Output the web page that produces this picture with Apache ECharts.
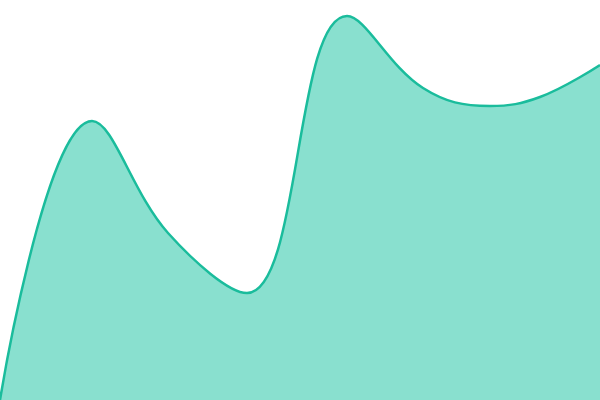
<!DOCTYPE html>
<html><head><meta charset="utf-8">
<script src="https://cdn.jsdelivr.net/npm/echarts@6/dist/echarts.min.js"></script>
<style>html,body{margin:0;padding:0;background:#fff}#c{width:600px;height:400px}</style>
</head><body><div id="c"></div>
<script>
const xs = [0, 92, 168, 247, 347, 423, 490, 540, 600];
const ys = [0, 279, 167, 107, 384, 312, 294, 303, 335];
const data = xs.map((x, i) => [x, ys[i]]);
const chart = echarts.init(document.getElementById('c'), null, {renderer: 'canvas'});
chart.setOption({
  animation: false,
  grid: {left: 0, right: 0, top: 0, bottom: 0},
  xAxis: {type: 'value', min: 0, max: 600, show: false},
  yAxis: {type: 'value', min: 0, max: 400, show: false},
  series: [{
    type: 'line', data: data, smooth: 0.4, showSymbol: false,
    lineStyle: {color: '#1abc9c', width: 2.5},
    areaStyle: {color: '#89e0cf', opacity: 1}
  }]
});
</script></body></html>
